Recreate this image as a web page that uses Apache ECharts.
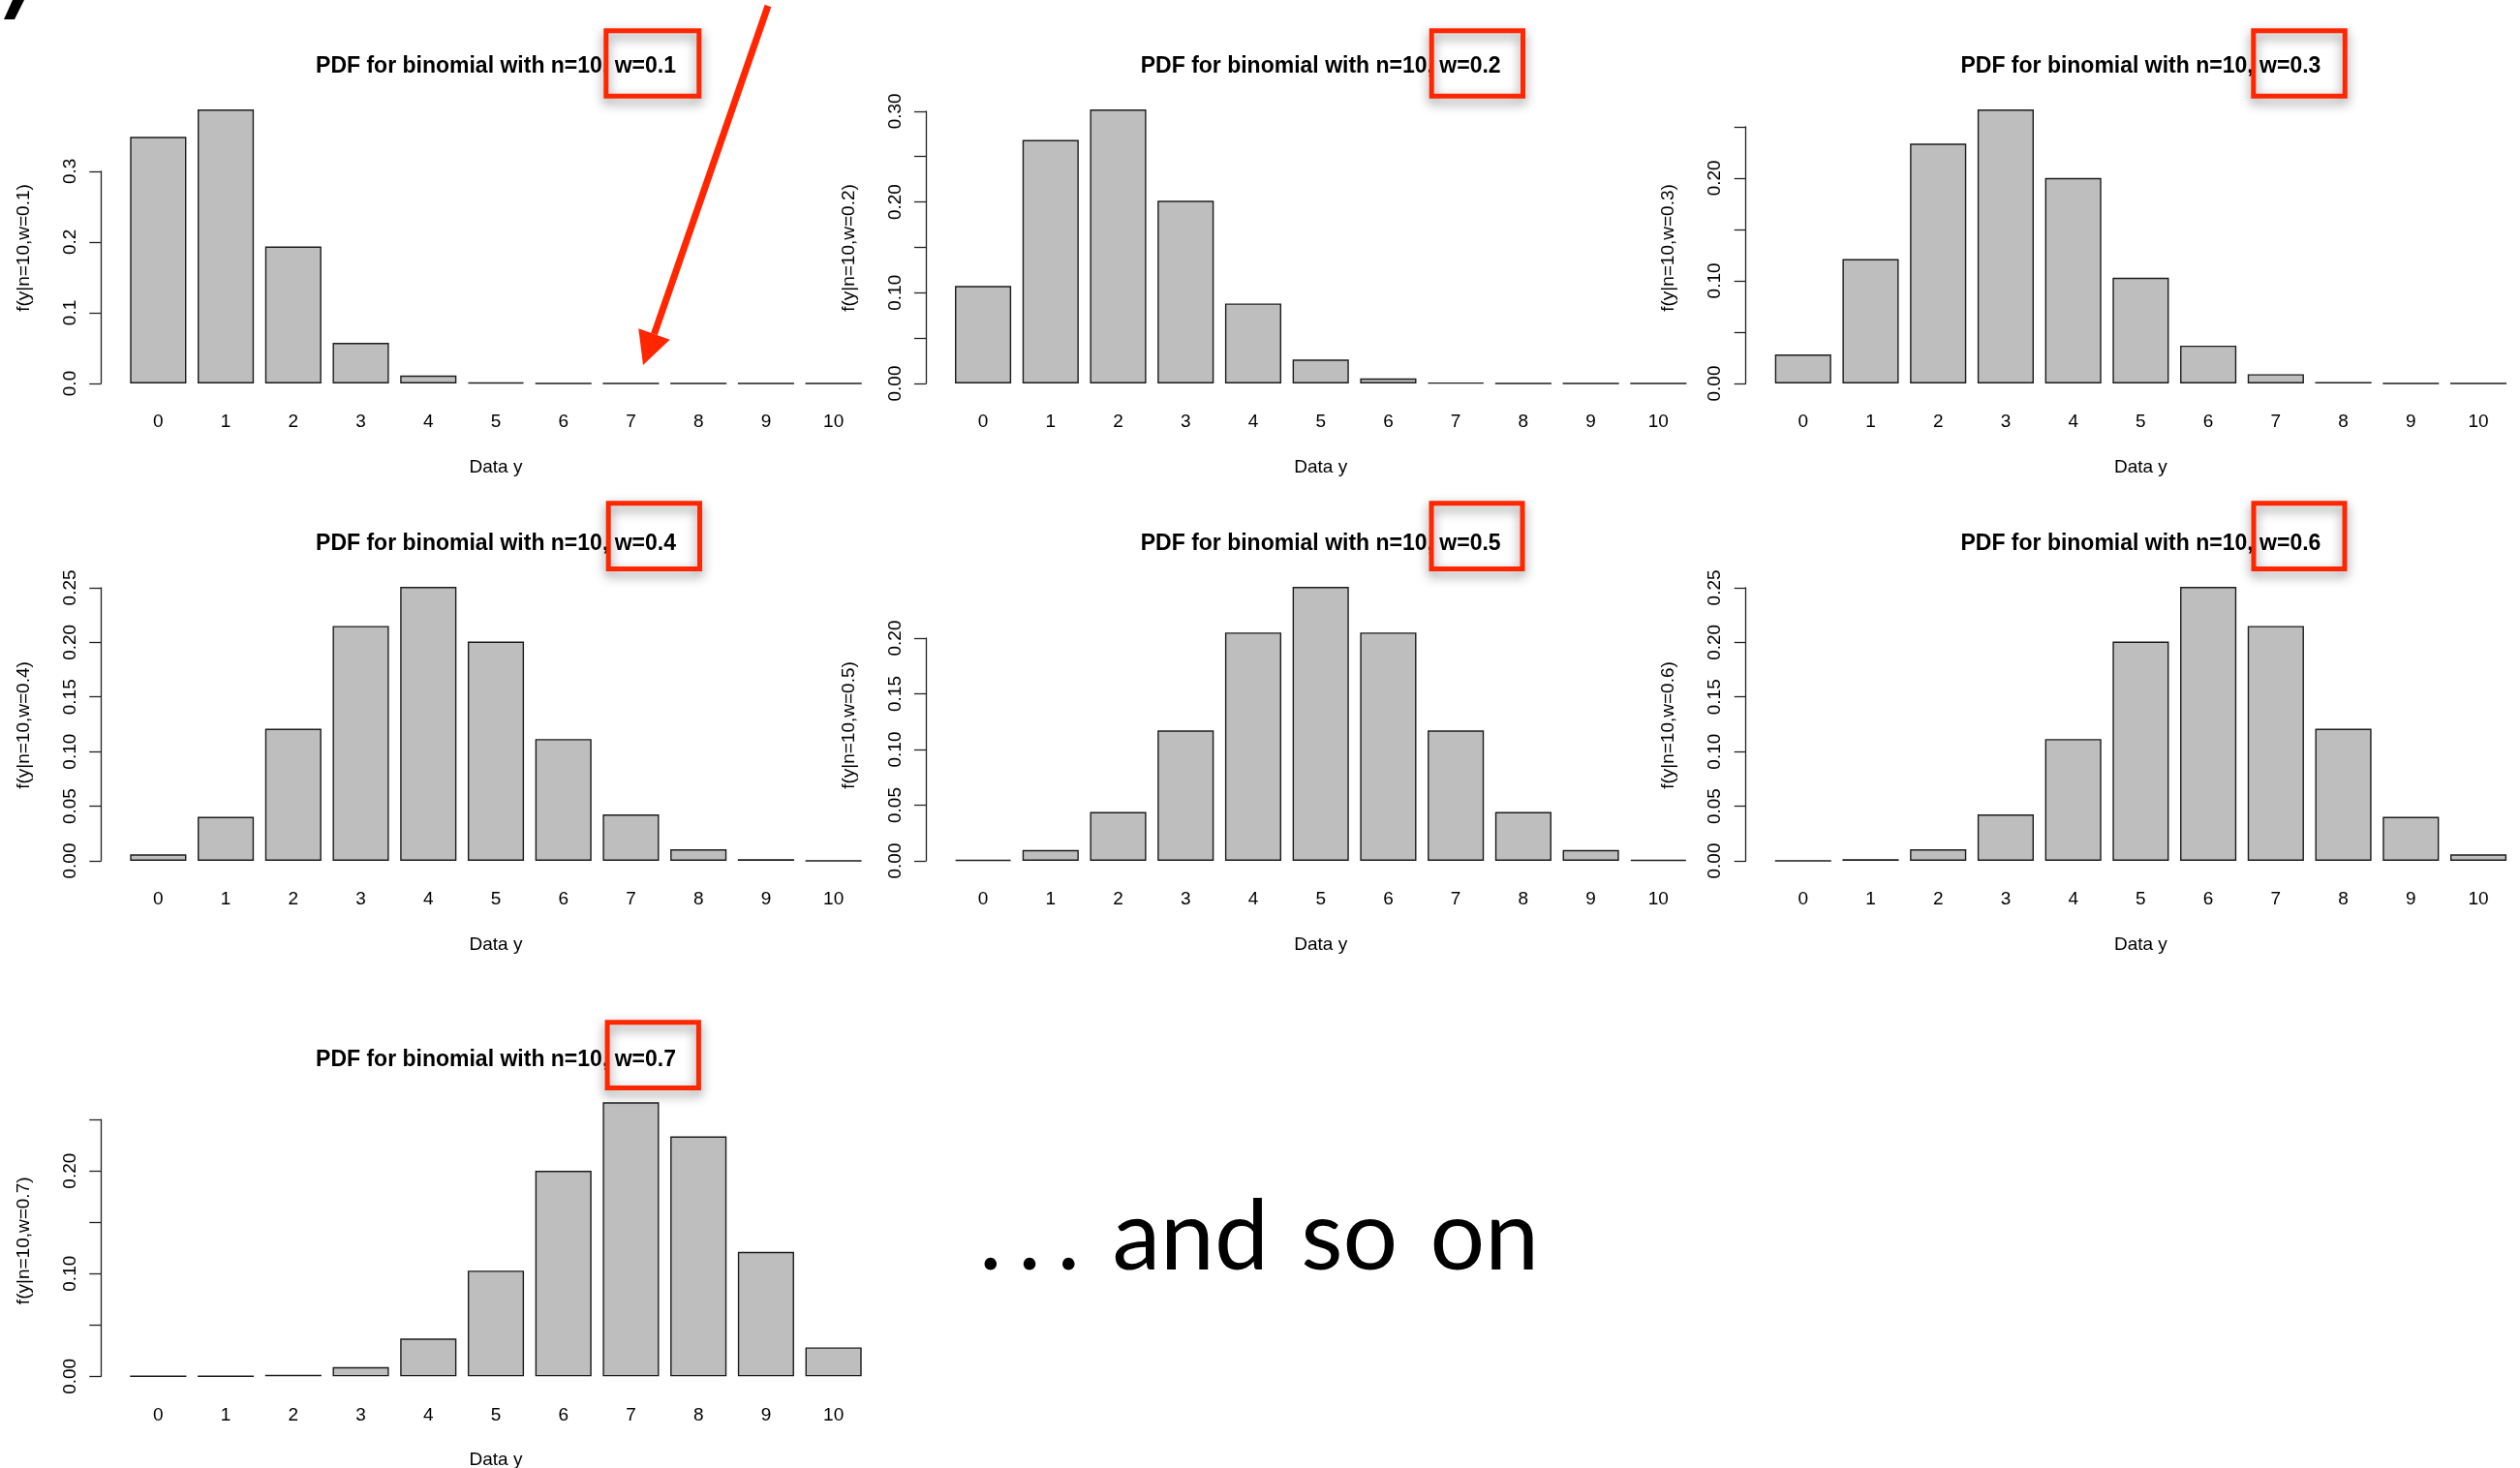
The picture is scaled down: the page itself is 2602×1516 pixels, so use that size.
<!DOCTYPE html>
<html>
<head>
<meta charset="utf-8">
<title>PDF for binomial with n=10</title>
<script src="https://cdn.jsdelivr.net/npm/echarts@6/dist/echarts.min.js"></script>
<style>
  html, body { margin: 0; padding: 0; background: #ffffff; }
  #chart { width: 2602px; height: 1516px; }
</style>
</head>
<body>
<div id="chart"></div>
<script>
// Outcome categories y = 0..10
const categories = ['0', '1', '2', '3', '4', '5', '6', '7', '8', '9', '10'];

// Success probabilities of the seven panels
const wValues = ['0.1', '0.2', '0.3', '0.4', '0.5', '0.6', '0.7'];

// f(y | n=10, w) for each panel
const pdfW01 = [0.3487, 0.3874, 0.1937, 0.0574, 0.0112, 0.0015, 0.00014, 0.000009, 0.0000004, 0.00000001, 0.0000000001];
const pdfW02 = [0.1074, 0.2684, 0.3020, 0.2013, 0.0881, 0.0264, 0.0055, 0.00079, 0.000074, 0.000004, 0.0000001];
const pdfW03 = [0.0282, 0.1211, 0.2335, 0.2668, 0.2001, 0.1029, 0.0368, 0.0090, 0.00145, 0.000138, 0.0000059];
const pdfW04 = [0.0060, 0.0403, 0.1209, 0.2150, 0.2508, 0.2007, 0.1115, 0.0425, 0.0106, 0.00157, 0.000105];
const pdfW05 = [0.00098, 0.0098, 0.0439, 0.1172, 0.2051, 0.2461, 0.2051, 0.1172, 0.0439, 0.0098, 0.00098];
const pdfW06 = [0.000105, 0.00157, 0.0106, 0.0425, 0.1115, 0.2007, 0.2508, 0.2150, 0.1209, 0.0403, 0.0060];
const pdfW07 = [0.0000059, 0.000138, 0.00145, 0.0090, 0.0368, 0.1029, 0.2001, 0.2668, 0.2335, 0.1211, 0.0282];

// y-axis tick layout per panel: top tick, tick step, labelled step, decimals
const yTopTicks = [0.3, 0.3, 0.25, 0.25, 0.2, 0.25, 0.25];
const yTickSteps = [0.1, 0.05, 0.05, 0.05, 0.05, 0.05, 0.05];
const yLabelSteps = [0.1, 0.1, 0.1, 0.05, 0.05, 0.05, 0.1];
const yLabelDecimals = [1, 2, 2, 2, 2, 2, 2];

const seriesValues = [pdfW01, pdfW02, pdfW03, pdfW04, pdfW05, pdfW06, pdfW07];

// ---- page layout (pixels) ----
const FONT = '"Liberation Sans", Arial, Helvetica, sans-serif';
const AXIS_X = [104.3, 956, 1802.7];      // x of each column's y axis line
const BASELINE = [396, 889, 1421.3];       // y of value 0 for each row
const AXIS_GAP = 24.2;                      // y axis sits left of the first band
const PLOT_W = 767;                         // 11 bands
const TALLEST = 283;                        // pixel height of the tallest bar in a panel
const RED = '#ff2600';

const chart = echarts.init(document.getElementById('chart'), null, { renderer: 'canvas' });

const grids = [], xAxes = [], yAxes = [], series = [], titles = [], graphics = [];

seriesValues.forEach(function (values, i) {
  const row = Math.floor(i / 3), col = i % 3;
  const maxVal = Math.max.apply(null, values);
  const top = yTopTicks[i];
  const h = TALLEST * top / maxVal;
  const left = AXIS_X[col] + AXIS_GAP;
  const base = BASELINE[row];
  const step = yLabelSteps[i], dec = yLabelDecimals[i];

  grids.push({ left: left, top: base - h, width: PLOT_W, height: h, outerBoundsMode: 'none', containLabel: false });

  xAxes.push({
    gridIndex: i, type: 'category', data: categories, boundaryGap: true,
    axisLine: { show: false }, axisTick: { show: false }, splitLine: { show: false },
    axisLabel: { interval: 0, margin: 30.5, fontSize: 19, color: '#000', fontFamily: FONT },
    name: 'Data y', nameLocation: 'middle', nameGap: 77,
    nameTextStyle: { fontSize: 19, color: '#000', fontFamily: FONT }
  });

  yAxes.push({
    gridIndex: i, type: 'value', min: 0, max: top, interval: yTickSteps[i], offset: AXIS_GAP,
    splitLine: { show: false },
    axisLine: { show: true, onZero: false, lineStyle: { color: '#222', width: 1.3 } },
    axisTick: { show: true, length: 12, lineStyle: { color: '#222', width: 1.3 } },
    axisLabel: {
      rotate: 90, margin: 22, fontSize: 19, color: '#000', fontFamily: FONT,
      showMinLabel: true, showMaxLabel: true,
      formatter: function (v) {
        const k = Math.round(v / step);
        return Math.abs(v - k * step) < 1e-9 ? v.toFixed(dec) : '';
      }
    }
  });

  series.push({
    type: 'bar', xAxisIndex: i, yAxisIndex: i, data: values,
    barWidth: '83.33%', clip: false, silent: true,
    itemStyle: { color: '#bebebe', borderColor: '#1c1c1c', borderWidth: 1.4 }
  });

  titles.push({
    text: 'PDF for binomial with n=10, w=' + wValues[i],
    left: left + PLOT_W / 2, top: base - 338.5, textAlign: 'center', padding: 0,
    textStyle: { fontSize: 23, fontWeight: 'bold', color: '#000', fontFamily: FONT }
  });

  // y axis title, centred on the bar height range
  graphics.push({
    type: 'text', x: AXIS_X[col] - 79.5, y: base - 140, rotation: Math.PI / 2,
    style: { text: 'f(y|n=10,w=' + wValues[i] + ')', fontSize: 19, fontFamily: FONT, fill: '#000',
             align: 'center', verticalAlign: 'middle' }
  });
});

// red highlight boxes around the w value in each title
const boxes = [
  [623.3, 29.3, 724.3, 101.7],
  [1475.7, 29.3, 1575.0, 101.7],
  [2324.3, 29.3, 2423.8, 101.7],
  [625.7, 517.3, 725.0, 590.0],
  [1475.5, 517.3, 1574.5, 590.0],
  [2324.5, 517.3, 2423.5, 590.0],
  [624.6, 1053.3, 723.9, 1126.0]
];
boxes.forEach(function (b) {
  graphics.push({
    type: 'rect', z: 100,
    shape: { x: b[0] + 2.5, y: b[1] + 2.5, width: b[2] - b[0] - 5, height: b[3] - b[1] - 5 },
    style: { fill: null, stroke: RED, lineWidth: 5,
             shadowBlur: 12, shadowColor: 'rgba(0,0,0,0.45)', shadowOffsetY: 5 }
  });
});

// arrow pointing at the near-zero bar of the first panel
graphics.push({
  type: 'line', z: 100,
  shape: { x1: 793, y1: 6, x2: 675.5, y2: 345 },
  style: { stroke: RED, lineWidth: 7 }
});
graphics.push({
  type: 'polygon', z: 100,
  shape: { points: [[664, 377], [659.3, 339.3], [691.7, 350.7]] },
  style: { fill: RED }
});

// stroke left over from the heading above the figure
graphics.push({
  type: 'polygon', z: 100,
  shape: { points: [[13, 0], [25, 0], [15, 20], [4, 20]] },
  style: { fill: '#000' }
});

// closing remark, with widely spaced dots and words
graphics.push({
  type: 'text', z: 100, x: 1011, y: 1279,
  style: { text: '.\u2006.\u2006.\u2004and\u2004so\u2004on', fontSize: 100,
           fontFamily: 'Lato, "Open Sans", sans-serif',
           fill: '#000', align: 'left', verticalAlign: 'middle' }
});

chart.setOption({
  backgroundColor: '#ffffff',
  animation: false,
  title: titles,
  grid: grids,
  xAxis: xAxes,
  yAxis: yAxes,
  series: series,
  graphic: { elements: graphics }
});
</script>
</body>
</html>
